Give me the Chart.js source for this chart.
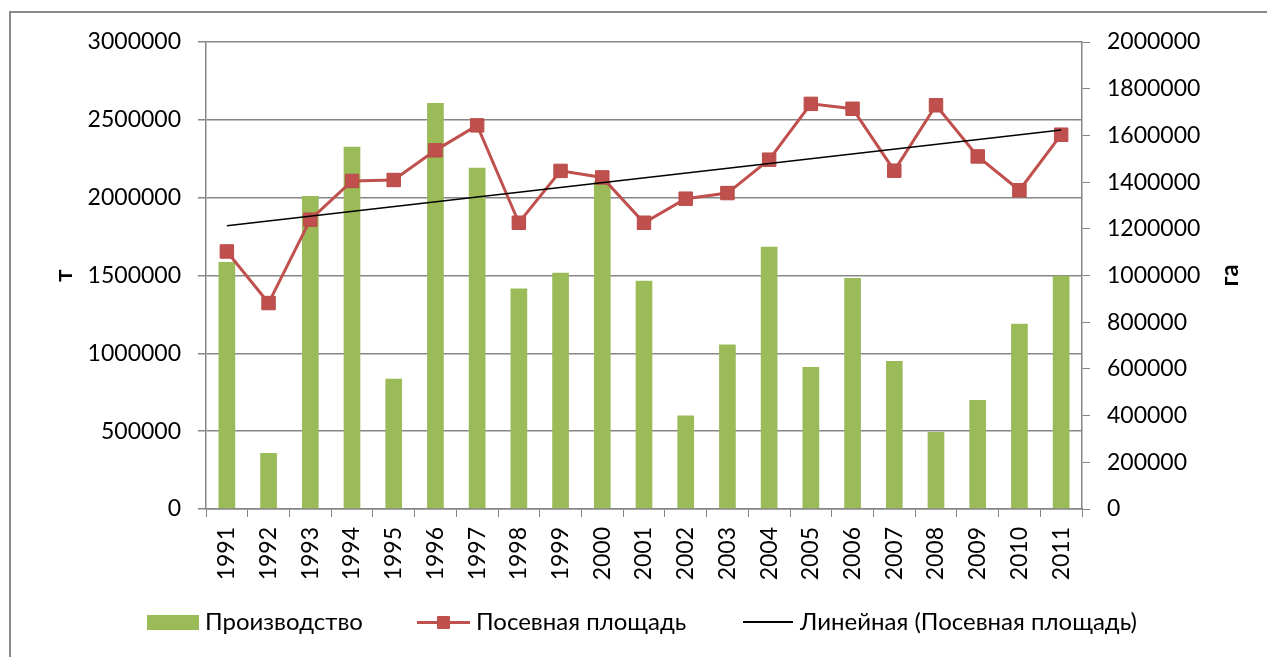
<!DOCTYPE html>
<html lang="ru">
<head>
<meta charset="utf-8">
<title>Производство и посевная площадь</title>
<script src="https://cdn.jsdelivr.net/npm/chart.js@4.4.1/dist/chart.umd.min.js"></script>
<style>
  html, body { margin: 0; padding: 0; background: #fff; overflow: hidden; }
  #wrap { position: relative; width: 1267px; height: 657px; font-family: Lato, 'Open Sans', sans-serif; }
  #frame { position: absolute; left: 9px; top: 11px; width: 1300px; height: 700px; border: 2px solid #8a8a8a; box-sizing: border-box; }
  canvas { position: absolute; left: 0; top: 0; }
  .lg { position: absolute; font-size: 24px; color: #000; line-height: 24px; white-space: nowrap; }
  .sw { position: absolute; }
</style>
</head>
<body>
<div id="wrap">
  <div id="frame"></div>
  <canvas id="chart" width="1267" height="657"></canvas>
  <!-- легенда -->
  <div class="sw" style="left:147px;top:615px;width:52px;height:15px;background:#9BBB59"></div>
  <div class="lg" style="left:205px;top:609px">Производство</div>
  <div class="sw" style="left:417px;top:621px;width:53px;height:3px;background:#C0504D"></div>
  <div class="sw" style="left:437px;top:616px;width:13px;height:13px;background:#C0504D;border-radius:1px"></div>
  <div class="lg" style="left:476px;top:609px">Посевная площадь</div>
  <div class="sw" style="left:743px;top:621px;width:50px;height:2px;background:#000"></div>
  <div class="lg" style="left:800px;top:609px">Линейная (Посевная площадь)</div>
</div>
<script>
// данные
const years = ['1991','1992','1993','1994','1995','1996','1997','1998','1999','2000','2001',
               '2002','2003','2004','2005','2006','2007','2008','2009','2010','2011'];
// производство, т (левая ось)
const production = [1587000, 360000, 2011000, 2327000, 837000, 2608000, 2192000, 1417000, 1518000, 2105000, 1467000,
                    601000, 1056000, 1685000, 912000, 1484000, 951000, 495000, 700000, 1190000, 1499000];
// посевная площадь, га (правая ось)
const area = [1103000, 882000, 1239000, 1405000, 1409000, 1536000, 1643000, 1226000, 1448000, 1420000, 1226000,
              1329000, 1353000, 1496000, 1735000, 1714000, 1449000, 1729000, 1510000, 1365000, 1603000];
// линия тренда: начало и конец
const trendYears = ['1991', '2011'];
const trendValues = [1213000, 1623000];

const leftTicks = { min: 0, max: 3000000, step: 500000 };
const rightTicks = { min: 0, max: 2000000, step: 200000 };

const FONT = { family: 'Lato, "Open Sans", sans-serif', size: 23 };
const GRID = '#868686';

// подписи осей "т" и "га", повернутые
const axisTitles = {
  id: 'axisTitles',
  afterDraw(chart) {
    const ctx = chart.ctx;
    const mid = (chart.chartArea.top + chart.chartArea.bottom) / 2;
    ctx.save();
    ctx.font = 'bold 24px Lato, "Open Sans", sans-serif';
    ctx.fillStyle = '#000';
    ctx.textAlign = 'center';
    ctx.textBaseline = 'middle';
    [['т', 64], ['га', 1230]].forEach(([t, x]) => {
      ctx.save();
      ctx.translate(x, mid);
      ctx.rotate(-Math.PI / 2);
      ctx.fillText(t, 0, 0);
      ctx.restore();
    });
    ctx.restore();
  }
};

new Chart(document.getElementById('chart'), {
  data: {
    labels: years,
    datasets: [
      {
        type: 'line', label: 'Линейная (Посевная площадь)', yAxisID: 'y2',
        data: trendYears.map((y, i) => ({ x: y, y: trendValues[i] })),
        borderColor: '#000', borderWidth: 1.5, pointRadius: 0, fill: false, order: 1
      },
      {
        type: 'line', label: 'Посевная площадь', yAxisID: 'y2', data: area,
        borderColor: '#C0504D', borderWidth: 3, backgroundColor: '#C0504D',
        pointStyle: 'rect', pointRadius: 9.5, pointBorderColor: '#B94B48', pointBorderWidth: 1,
        pointBackgroundColor: '#C0504D', tension: 0, order: 2
      },
      {
        type: 'bar', label: 'Производство', yAxisID: 'y', data: production,
        backgroundColor: '#9BBB59', barPercentage: 0.4, categoryPercentage: 1, order: 3
      }
    ]
  },
  options: {
    responsive: false,
    animation: false,
    layout: { padding: { top: 42, left: 0, right: 0, bottom: 0 } },
    plugins: { legend: { display: false }, tooltip: { enabled: false } },
    scales: {
      x: {
        type: 'category', offset: true,
        grid: { offset: true, drawOnChartArea: false, color: GRID, tickLength: 8, tickColor: GRID },
        border: { color: GRID, width: 1.5 },
        ticks: { color: '#000', font: FONT, autoSkip: false, minRotation: 90, maxRotation: 90, padding: 10 },
        afterFit(s) { s.height = 148; }
      },
      y: {
        position: 'left', min: leftTicks.min, max: leftTicks.max,
        grid: { color: GRID, lineWidth: 1.5, tickLength: 8 },
        border: { color: GRID, width: 1.5 },
        ticks: { stepSize: leftTicks.step, color: '#000', font: FONT, padding: 17, callback: v => String(v) },
        afterFit(s) { s.width = 206; }
      },
      y2: {
        position: 'right', min: rightTicks.min, max: rightTicks.max,
        grid: { drawOnChartArea: false, color: GRID, tickLength: 8 },
        border: { color: GRID, width: 1.5 },
        ticks: { stepSize: rightTicks.step, color: '#000', font: FONT, padding: 17, callback: v => String(v) },
        afterFit(s) { s.width = 185; }
      }
    }
  },
  plugins: [axisTitles]
});
</script>
</body>
</html>
